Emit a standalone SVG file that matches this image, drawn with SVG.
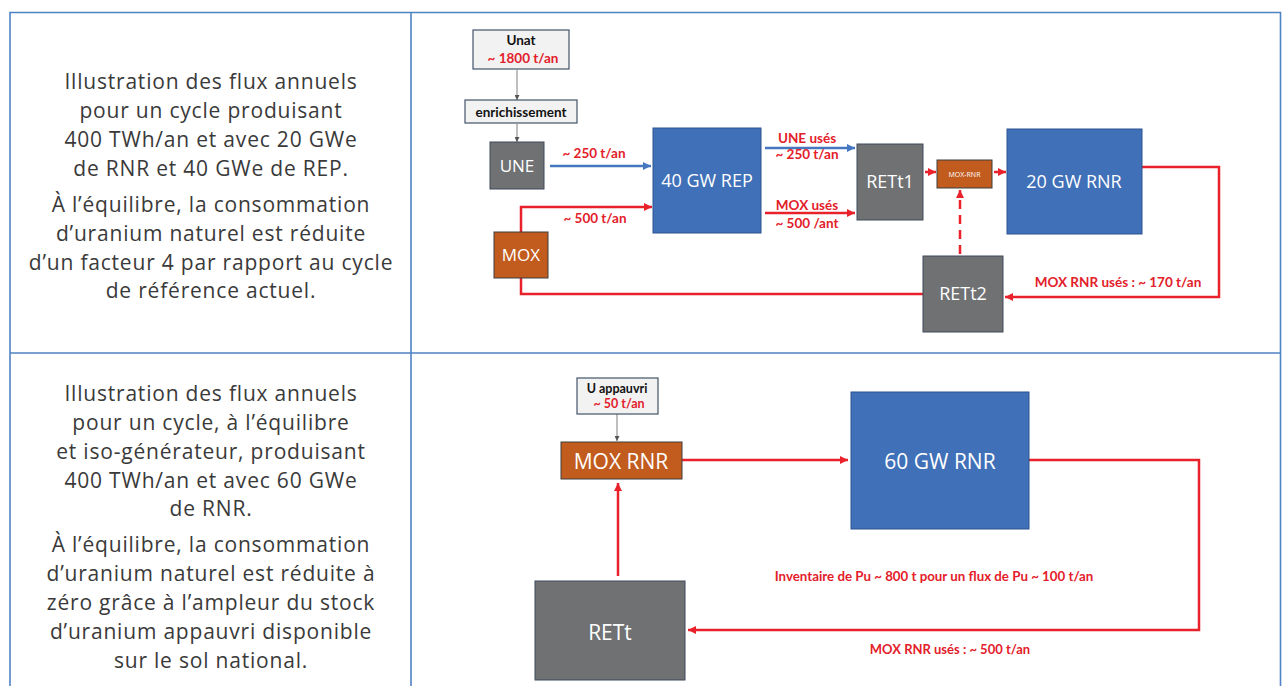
<svg xmlns="http://www.w3.org/2000/svg" width="1284" height="686" viewBox="0 0 1284 686">
<style>
.desc{font-family:"Open Sans",Lato,sans-serif;font-size:21px;letter-spacing:0.8px;fill:#3a3a3a;text-anchor:middle}
.lbl{font-family:Lato,"Liberation Sans",sans-serif;font-weight:bold;font-size:13.5px;text-anchor:middle}
.red{fill:#e3202a}
.blk{fill:#111}
.wt{font-family:"Open Sans","Liberation Sans",sans-serif;fill:#fff;text-anchor:middle}
.blue{fill:#3f70b8;stroke:#2f528f;stroke-width:1}
.gray{fill:#6f7173;stroke:#3f4a5a;stroke-width:1}
.orange{fill:#c25b1e;stroke:#3f3f3f;stroke-width:1}
.lite{fill:#f2f2f2;stroke:#44546a;stroke-width:1.2}
.rl{fill:none;stroke:#e8212b;stroke-width:2.5}
.bl{fill:none;stroke:#4576c0;stroke-width:2.5}
.gl{fill:none;stroke:#7f7f7f;stroke-width:1}
.grid{fill:none;stroke:#4f83c4;stroke-width:1.6}
</style>
<defs>
<marker id="ar" viewBox="0 0 10 10" refX="10" refY="5" markerWidth="9" markerHeight="8" markerUnits="userSpaceOnUse" orient="auto"><path d="M0,0 L10,5 L0,10 z" fill="#e8212b"/></marker>
<marker id="ab" viewBox="0 0 10 10" refX="10" refY="5" markerWidth="9" markerHeight="8" markerUnits="userSpaceOnUse" orient="auto"><path d="M0,0 L10,5 L0,10 z" fill="#4576c0"/></marker>
<marker id="ag" viewBox="0 0 10 10" refX="10" refY="5" markerWidth="5" markerHeight="5" markerUnits="userSpaceOnUse" orient="auto"><path d="M0,0 L10,5 L0,10 z" fill="#555"/></marker>
</defs>
<rect width="1284" height="686" fill="#fff"/>
<g id="table">
<path class="grid" d="M10,700 V12.5 H1280.5 V700 M411,12.5 V700 M10,353 H1280.5"/>
</g>
<g id="text1">
<text class="desc" x="211" y="89">Illustration des flux annuels</text>
<text class="desc" x="211" y="118">pour un cycle produisant</text>
<text class="desc" x="211" y="147">400 TWh/an et avec 20 GWe</text>
<text class="desc" x="211" y="176">de RNR et 40 GWe de REP.</text>
<text class="desc" x="211" y="212">À l’équilibre, la consommation</text>
<text class="desc" x="211" y="241">d’uranium naturel est réduite</text>
<text class="desc" x="211" y="270">d’un facteur 4 par rapport au cycle</text>
<text class="desc" x="211" y="298">de référence actuel.</text>
</g>
<g id="text2">
<text class="desc" x="211" y="401">Illustration des flux annuels</text>
<text class="desc" x="211" y="430">pour un cycle, à l’équilibre</text>
<text class="desc" x="211" y="459">et iso-générateur, produisant</text>
<text class="desc" x="211" y="488">400 TWh/an et avec 60 GWe</text>
<text class="desc" x="211" y="516">de RNR.</text>
<text class="desc" x="211" y="552">À l’équilibre, la consommation</text>
<text class="desc" x="211" y="581">d’uranium naturel est réduite à</text>
<text class="desc" x="211" y="610">zéro grâce à l’ampleur du stock</text>
<text class="desc" x="211" y="639">d’uranium appauvri disponible</text>
<text class="desc" x="211" y="668">sur le sol national.</text>
</g>
<g id="connectors">
<line class="gl" x1="517" y1="70" x2="517" y2="100" marker-end="url(#ag)"/>
<line class="gl" x1="517" y1="124" x2="517" y2="142" marker-end="url(#ag)"/>
<line class="bl" x1="550" y1="166" x2="651" y2="166" marker-end="url(#ab)"/>
<line class="bl" x1="765" y1="148" x2="855" y2="148" marker-end="url(#ab)"/>
<line class="rl" x1="765" y1="213" x2="855" y2="213" marker-end="url(#ar)"/>
<polyline class="rl" points="521,232 521,207 652,207" marker-end="url(#ar)"/>
<polyline class="rl" points="521,278 521,294 923,294"/>
<line class="rl" x1="925" y1="172" x2="936" y2="172" marker-end="url(#ar)"/>
<line class="rl" x1="994" y1="172" x2="1006" y2="172" marker-end="url(#ar)"/>
<polyline class="rl" points="1142,167 1219,167 1219,297 1005,297" marker-end="url(#ar)"/>
<line class="rl" x1="960" y1="254" x2="960" y2="190" stroke-dasharray="9,6" marker-end="url(#ar)"/>
<line class="gl" x1="617" y1="414" x2="617" y2="441" marker-end="url(#ag)"/>
<line class="rl" x1="682" y1="460" x2="848" y2="460" marker-end="url(#ar)"/>
<polyline class="rl" points="1029,460 1199,460 1199,630 688,630" marker-end="url(#ar)"/>
<line class="rl" x1="618" y1="576" x2="618" y2="483" marker-end="url(#ar)"/>
</g>
<g id="labels">
<text class="lbl red" x="594" y="158">~ 250 t/an</text>
<text class="lbl red" x="807" y="143">UNE usés</text>
<text class="lbl red" x="807" y="159">~ 250 t/an</text>
<text class="lbl red" x="807" y="210">MOX usés</text>
<text class="lbl red" x="807" y="228">~ 500 /ant</text>
<text class="lbl red" x="595" y="223">~ 500 t/an</text>
<text class="lbl red" x="1118" y="287">MOX RNR usés : ~ 170 t/an</text>
<text class="lbl red" x="934" y="581" style="font-size:13.3px">Inventaire de Pu ~ 800 t pour un flux de Pu ~ 100 t/an</text>
<text class="lbl red" x="950" y="654" style="font-size:13px">MOX RNR usés : ~ 500 t/an</text>
</g>
<g id="unat">
<rect class="lite" x="473" y="30" width="96" height="39"/>
<text class="lbl blk" x="521" y="45">Unat</text>
<text class="lbl red" x="523" y="63">~ 1800 t/an</text>
</g>
<g id="enrichissement">
<rect class="lite" x="465" y="100" width="112" height="23"/>
<text class="lbl blk" x="521" y="117">enrichissement</text>
</g>
<g id="une">
<rect class="gray" x="490" y="142" width="54" height="47"/>
<text class="wt" x="517" y="172" font-size="17">UNE</text>
</g>
<g id="mox">
<rect class="orange" x="494" y="232" width="54" height="46"/>
<text class="wt" x="521" y="261" font-size="17">MOX</text>
</g>
<g id="rep40">
<rect class="blue" x="653" y="128" width="108" height="105"/>
<text class="wt" x="707" y="187" font-size="18">40 GW REP</text>
</g>
<g id="rett1">
<rect class="gray" x="857" y="144" width="66" height="76"/>
<text class="wt" x="890" y="188" font-size="18">RETt1</text>
</g>
<g id="moxrnr-small">
<rect class="orange" x="937" y="160" width="55" height="28"/>
<text class="wt" x="964.5" y="177" font-size="7">MOX-RNR</text>
</g>
<g id="rnr20">
<rect class="blue" x="1007" y="129" width="135" height="105"/>
<text class="wt" x="1074" y="188" font-size="18">20 GW RNR</text>
</g>
<g id="rett2">
<rect class="gray" x="923" y="256" width="80" height="76"/>
<text class="wt" x="963" y="300" font-size="18">RETt2</text>
</g>
<g id="uappauvri">
<rect class="lite" x="577" y="378" width="81" height="36"/>
<text class="lbl blk" x="617" y="393" style="font-size:12.5px">U appauvri</text>
<text class="lbl red" x="619" y="408" style="font-size:12.5px">~ 50 t/an</text>
</g>
<g id="moxrnr">
<rect class="orange" x="561" y="442" width="121" height="37"/>
<text class="wt" x="621" y="469" font-size="21">MOX RNR</text>
</g>
<g id="rnr60">
<rect class="blue" x="851" y="392" width="178" height="137"/>
<text class="wt" x="940" y="469" font-size="21">60 GW RNR</text>
</g>
<g id="rett">
<rect class="gray" x="535" y="581" width="150" height="99"/>
<text class="wt" x="610" y="640" font-size="21">RETt</text>
</g>
</svg>
